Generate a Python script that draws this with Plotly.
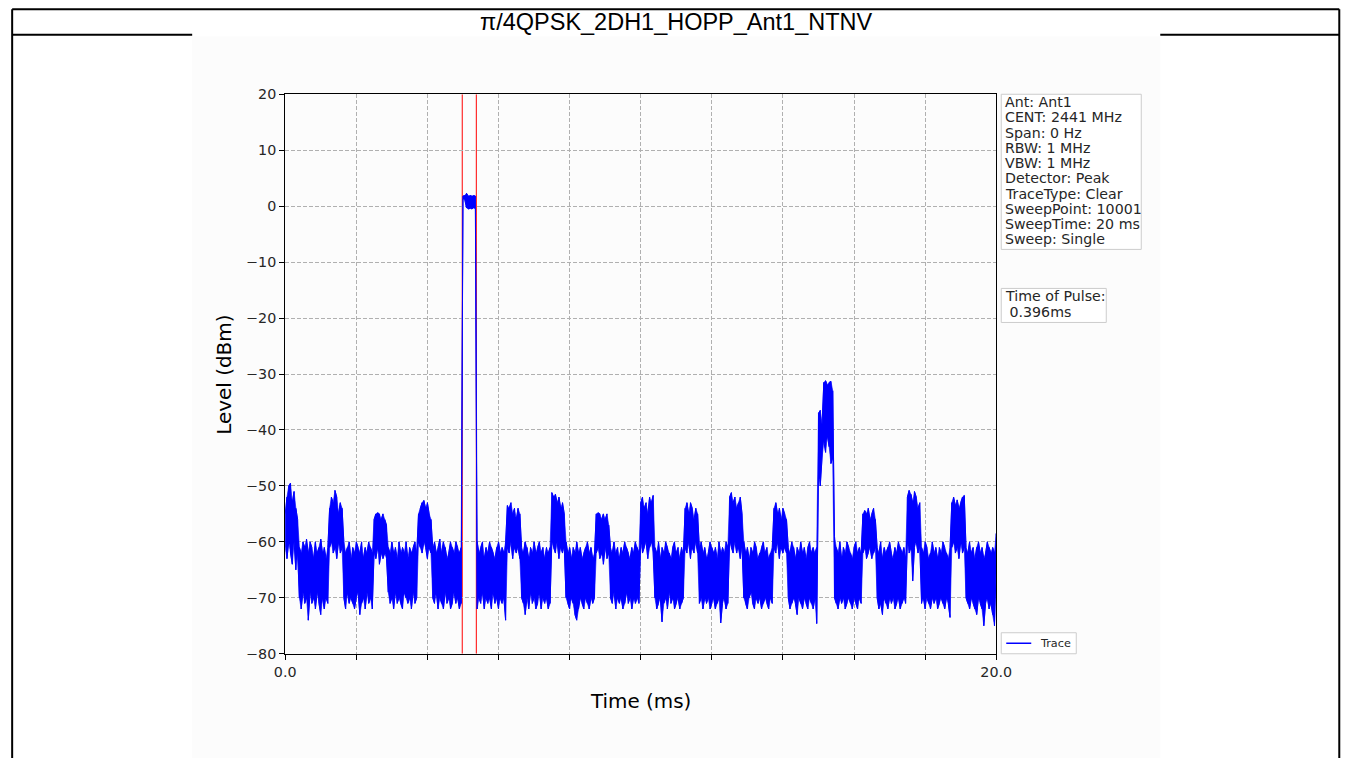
import plotly.graph_objects as go

# Layout positions below are written in screen pixels of the captured window.
# The page renders slightly zoomed out and keeps the default 8px body margin,
# so screen pixels are converted to figure pixels before use.
VIEW_SX, VIEW_OX = 0.98, 3.0
VIEW_SY, VIEW_OY = 0.978, 0.0
BODY_MARGIN = 8
FIG_W, FIG_H = 1356, 758
FONT_K = 1 / 0.979
SCREEN_H = 759

chart_title = "π/4QPSK_2DH1_HOPP_Ant1_NTNV"
x_label = "Time (ms)"
y_label = "Level (dBm)"

# Zero-span sweep: 20 ms, shown as per-column peak/valley pairs every 0.05 ms
sweep_time_ms = 20.0
column_step_ms = 0.05

x_ticks = [0, 2, 4, 6, 8, 10, 12, 14, 16, 18, 20]
x_tick_text = ["0.0", "", "", "", "", "", "", "", "", "", "20.0"]
y_ticks = [-80, -70, -60, -50, -40, -30, -20, -10, 0, 10, 20]
y_tick_text = ["\u221280", "\u221270", "\u221260", "\u221250", "\u221240",
               "\u221230", "\u221220", "\u221210", "0", "10", "20"]

settings_lines = [
    "Ant: Ant1",
    "CENT: 2441 MHz",
    "Span: 0 Hz",
    "RBW: 1 MHz",
    "VBW: 1 MHz",
    "Detector: Peak",
    "TraceType: Clear",
    "SweepPoint: 10001",
    "SweepTime: 20 ms",
    "Sweep: Single",
]
pulse_label_lines = ["Time of Pulse:", "\u00a00.396ms"]
pulse_start_ms = 4.98
pulse_width_ms = 0.396
legend_name = "Trace"

# Column maxima (dBm), one value per 0.05 ms column
level_max = [
    -55, -52, -50, -49.5, -53, -51, -54, -56,
    -61, -62, -60, -61, -59.5, -62, -60, -61, -63, -60, -62, -61, -59.5, -62, -61, -63, -61,
    -54, -52, -53, -50.8, -52, -55, -53, -54,
    -60, -62, -61, -60, -63, -61, -62, -60, -61, -62, -60, -63, -61, -62, -60, -61, -62,
    -56, -55, -54.8, -55, -56, -55, -56, -57,
    -61, -62, -60, -62, -61, -63, -60, -62, -61, -62, -60, -63, -61, -62, -61, -60, -62,
    -55, -54, -53, -52.6, -54, -53, -55, -56,
    -61, -60, -62, -61, -59.5, -62, -60, -61, -63, -62, -60, -61, -62, -60, -61, -62, -61,
    1.8, 1.9, 2.3, 1.8, 1.9, 1.8, 1.9, 1.8,
    -60, -62, -61, -60, -63, -61, -62, -60, -61, -62, -63, -61, -60, -62, -61, -62, -60,
    -53.5, -54, -53, -55, -54, -56, -54, -55,
    -61, -62, -60, -61, -63, -61, -62, -60, -62, -61, -60, -62, -61, -63, -61, -62, -61,
    -51.2, -52, -51.5, -53, -52, -54, -53, -55,
    -60, -62, -61, -63, -61, -62, -60, -62, -61, -63, -62, -61, -60, -62, -61, -63, -62,
    -55, -54.8, -55, -56, -55, -56, -55, -57,
    -61, -62, -60, -62, -61, -63, -61, -62, -60, -61, -62, -63, -61, -62, -60, -61, -62,
    -53, -52, -54, -53, -55, -52, -53, -51.7,
    -61, -62, -60, -63, -61, -62, -60, -61, -62, -63, -61, -60, -62, -61, -63, -61, -62,
    -54, -53, -55, -53, -54, -56, -54, -55,
    -61, -60, -62, -61, -63, -62, -60, -61, -62, -61, -63, -60, -62, -61, -62, -60, -61,
    -52, -51.2, -53, -52, -54, -53, -52, -55,
    -60, -62, -61, -63, -61, -62, -60, -61, -63, -62, -61, -60, -62, -61, -63, -62, -61,
    -54, -53, -55, -54, -56, -54, -55, -56,
    -61, -62, -60, -61, -63, -61, -62, -60, -62, -61, -63, -61, -60, -62, -61, -62, -61,
    -37, -36.5, -39, -31.5, -31.2, -32, -31.5, -31.3, -33,
    -59, -61, -62, -60, -63, -61, -62, -60, -61, -62, -63, -61, -60, -62, -61, -62,
    -55, -54.4, -55, -54, -56, -55, -54, -56,
    -61, -62, -60, -63, -61, -62, -61, -60, -62, -63, -61, -62, -60, -61, -62, -61, -63,
    -52, -50.8, -51.5, -53, -51, -52, -54, -53,
    -61, -62, -60, -61, -63, -62, -60, -62, -61, -63, -61, -62, -60, -61, -62, -63, -61,
    -53, -52, -53.5, -52.5, -54, -53, -52, -51.7,
    -61, -62, -60, -62, -61, -63, -61, -60, -62, -61, -63, -62, -60, -61, -62, -61, -62,
    -58.5,
]

# Column minima (dBm), same columns as level_max
level_min = [
    -61, -63, -60, -62, -64, -60, -65, -62,
    -70, -72, -69, -71, -70, -74, -69, -71, -70, -72, -69, -71, -73, -70, -72, -70, -71,
    -61, -60, -62, -61, -63, -60, -62, -61,
    -70, -72, -69, -71, -70, -71, -72, -70, -69, -73, -71, -70, -72, -69, -71, -70, -72,
    -62, -63, -61, -64, -62, -63, -62, -63,
    -69, -71, -70, -72, -69, -71, -70, -71, -72, -69, -70, -71, -70, -72, -69, -71, -70,
    -60, -61, -62, -60, -61, -63, -61, -62,
    -70, -71, -69, -72, -70, -71, -72, -69, -71, -70, -72, -71, -69, -71, -70, -72, -71,
    1.3, 1.2, -0.3, -0.5, -0.4, -0.5, -0.3, -0.5,
    -72, -70, -71, -69, -72, -70, -71, -70, -72, -69, -71, -70, -72, -70, -71, -70, -74,
    -61, -62, -60, -63, -61, -62, -61, -63,
    -70, -71, -73, -70, -72, -69, -71, -70, -72, -71, -69, -72, -70, -71, -70, -72, -71,
    -60, -61, -62, -60, -63, -61, -62, -61,
    -70, -71, -72, -70, -71, -73, -74, -72, -70, -71, -72, -70, -71, -72, -70, -71, -70,
    -62, -61, -63, -62, -64, -61, -63, -62,
    -70, -71, -69, -72, -70, -71, -70, -72, -71, -69, -71, -70, -72, -70, -71, -70, -71,
    -60, -62, -61, -60, -63, -61, -60, -62,
    -70, -72, -71, -70, -74.3, -71, -70, -72, -69, -71, -70, -72, -71, -70, -72, -71, -70,
    -61, -62, -60, -63, -61, -62, -60, -62,
    -71, -70, -72, -70, -71, -70, -72, -71, -70, -72, -71, -70, -74.5, -71, -70, -72, -71,
    -60, -61, -62, -60, -62, -61, -63, -61,
    -70, -71, -72, -70, -69, -71, -72, -70, -71, -70, -72, -71, -70, -71, -72, -70, -71,
    -61, -62, -60, -63, -61, -62, -61, -62,
    -70, -72, -71, -70, -71, -73, -70, -71, -72, -70, -71, -72, -70, -71, -72, -70, -74.6,
    -48, -50, -45, -42, -44, -41, -43, -46, -45,
    -70, -71, -72, -70, -71, -70, -72, -71, -70, -71, -72, -70, -71, -72, -70, -71,
    -62, -61, -63, -62, -61, -63, -62, -61,
    -70, -72, -71, -73, -70, -71, -72, -70, -71, -70, -72, -71, -70, -72, -71, -70, -71,
    -60, -62, -61, -67, -61, -60, -62, -61,
    -71, -70, -72, -70, -71, -72, -70, -71, -70, -72, -71, -70, -71, -72, -70, -71, -73.5,
    -61, -60, -62, -61, -63, -60, -62, -61,
    -70, -71, -72, -70, -71, -72, -73, -70, -71, -72, -75, -71, -70, -72, -71, -73, -75,
    -64,
]

column_times = [round(i * column_step_ms, 3) for i in range(len(level_max))]

# Each column becomes a vertical stroke; alternate the stroke direction so the
# connecting segments run along the top and bottom envelopes.
trace_x, trace_y = [], []
for i, (t, hi, lo) in enumerate(zip(column_times, level_max, level_min)):
    trace_x += [t, t]
    trace_y += [lo, hi] if i % 2 == 0 else [hi, lo]

# Closed outline of the peak/valley envelope, used to fill the dense trace body
band_x = column_times + column_times[::-1]
band_y = level_max + level_min[::-1]


def fx(px):
    fig_px = (px - VIEW_OX) / VIEW_SX - BODY_MARGIN
    return fig_px / FIG_W


def fy(py):
    fig_py = (py - VIEW_OY) / VIEW_SY - BODY_MARGIN
    return 1 - fig_py / FIG_H


def fs(size):
    return round(size * FONT_K, 2)


PLOT_L, PLOT_R, PLOT_T, PLOT_B = 285, 996, 94, 653
TEXT = "DejaVu Sans"
INK = "#262626"
TRACE_BLUE = "#0000ff"

fig = go.Figure()
fig.add_trace(go.Scatter(
    x=band_x, y=band_y, mode="lines", fill="toself", fillcolor=TRACE_BLUE,
    line=dict(color=TRACE_BLUE, width=0.6, simplify=False),
    showlegend=False, hoverinfo="skip",
))
fig.add_trace(go.Scatter(
    x=trace_x, y=trace_y, mode="lines", name=legend_name,
    line=dict(color=TRACE_BLUE, width=1, simplify=False), showlegend=False,
))

shapes = []
annotations = []

# page frame and title strip
shapes.append(dict(type="rect", xref="paper", yref="paper",
                   x0=fx(192), x1=fx(1160), y0=fy(SCREEN_H + 20), y1=fy(36),
                   fillcolor="#fcfcfc", line=dict(width=0), layer="below"))
frame = dict(color="black", width=2)
shapes += [
    dict(type="line", xref="paper", yref="paper", x0=fx(12), x1=fx(1339), y0=fy(9), y1=fy(9), line=frame),
    dict(type="line", xref="paper", yref="paper", x0=fx(12), x1=fx(12), y0=fy(9), y1=fy(SCREEN_H + 20), line=frame),
    dict(type="line", xref="paper", yref="paper", x0=fx(1339), x1=fx(1339), y0=fy(9), y1=fy(SCREEN_H + 20), line=frame),
    dict(type="line", xref="paper", yref="paper", x0=fx(12), x1=fx(192), y0=fy(34.5), y1=fy(34.5), line=frame),
    dict(type="line", xref="paper", yref="paper", x0=fx(1160), x1=fx(1339), y0=fy(34.5), y1=fy(34.5), line=frame),
]
annotations.append(dict(text=chart_title, xref="paper", yref="paper",
                        x=fx(676), y=fy(21.5), xanchor="center", yanchor="middle",
                        showarrow=False,
                        font=dict(family="Liberation Sans", size=fs(23), color="black")))

# pulse markers
for xv in (pulse_start_ms, pulse_start_ms + pulse_width_ms):
    shapes.append(dict(type="line", xref="x", yref="y", x0=xv, x1=xv, y0=-80, y1=20,
                       line=dict(color="#ff0000", width=1), layer="below"))

# axis titles
annotations.append(dict(text=x_label, xref="paper", yref="paper", x=fx(640), y=fy(701),
                        xanchor="center", yanchor="middle", showarrow=False,
                        font=dict(family=TEXT, size=fs(19.5), color="black")))
annotations.append(dict(text=y_label, xref="paper", yref="paper", x=fx(224), y=fy(374),
                        xanchor="center", yanchor="middle", showarrow=False, textangle=-90,
                        font=dict(family=TEXT, size=fs(19.5), color="black")))

# settings box
box_line = dict(color="#cccccc", width=1)
shapes.append(dict(type="rect", xref="paper", yref="paper",
                   x0=fx(1001), x1=fx(1141), y0=fy(249), y1=fy(94),
                   fillcolor="white", line=box_line))
for k, line_text in enumerate(settings_lines):
    annotations.append(dict(text=line_text, xref="paper", yref="paper",
                            x=fx(1003), y=fy(102 + 15.2 * k), xanchor="left", yanchor="middle",
                            showarrow=False, font=dict(family=TEXT, size=fs(13.9), color=INK)))

# pulse width box
shapes.append(dict(type="rect", xref="paper", yref="paper",
                   x0=fx(1001), x1=fx(1106), y0=fy(322), y1=fy(288),
                   fillcolor="white", line=box_line))
for k, line_text in enumerate(pulse_label_lines):
    annotations.append(dict(text=line_text, xref="paper", yref="paper",
                            x=fx(1003), y=fy(296 + 15.2 * k), xanchor="left", yanchor="middle",
                            showarrow=False, font=dict(family=TEXT, size=fs(13.9), color=INK)))

# trace legend
shapes.append(dict(type="rect", xref="paper", yref="paper",
                   x0=fx(1001), x1=fx(1076), y0=fy(653), y1=fy(632),
                   fillcolor="white", line=box_line))
shapes.append(dict(type="line", xref="paper", yref="paper",
                   x0=fx(1006), x1=fx(1031), y0=fy(642.5), y1=fy(642.5),
                   line=dict(color=TRACE_BLUE, width=1.5)))
annotations.append(dict(text=legend_name, xref="paper", yref="paper",
                        x=fx(1038), y=fy(642.5), xanchor="left", yanchor="middle",
                        showarrow=False, font=dict(family=TEXT, size=fs(11), color=INK)))

axis_common = dict(
    showline=True, linecolor="black", linewidth=1, mirror=True,
    ticks="outside", ticklen=5, tickwidth=1, tickcolor="black",
    showgrid=True, gridcolor="#b0b0b0", gridwidth=0.8, griddash="4px,2px",
    zeroline=False, tickfont=dict(family=TEXT, size=fs(14), color=INK),
)

fig.update_layout(
    width=FIG_W, height=FIG_H, autosize=False,
    margin=dict(l=0, r=0, t=0, b=0),
    paper_bgcolor="white", plot_bgcolor="white",
    showlegend=False,
    xaxis=dict(domain=[fx(PLOT_L), fx(PLOT_R)], range=[0, sweep_time_ms],
               tickmode="array", tickvals=x_ticks, ticktext=x_tick_text, **axis_common),
    yaxis=dict(domain=[fy(PLOT_B), fy(PLOT_T)], range=[-80, 20],
               tickmode="array", tickvals=y_ticks, ticktext=y_tick_text, **axis_common),
    shapes=shapes,
    annotations=annotations,
)

fig.write_html("out.html")
